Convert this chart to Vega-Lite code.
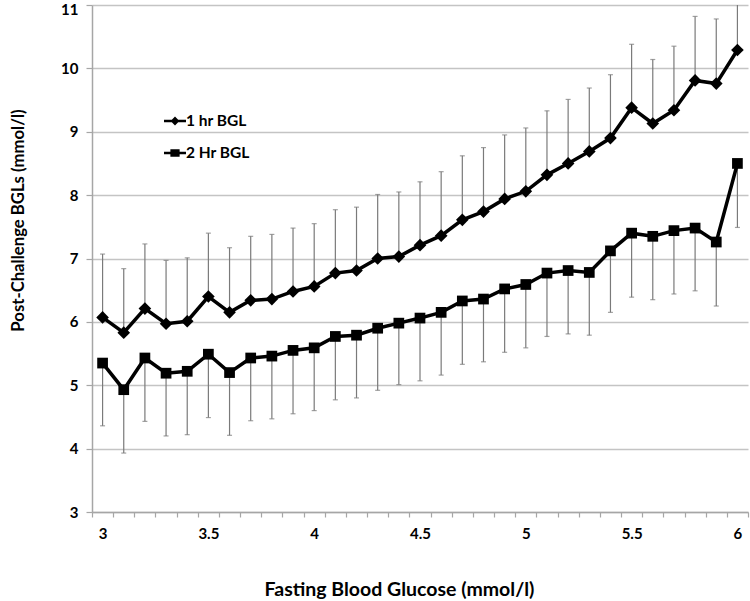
{
  "$schema": "https://vega.github.io/schema/vega-lite/v6.json",
  "autosize": {"type": "none"},
  "width": 656,
  "height": 507,
  "padding": {"left": 92, "top": 5, "right": 2, "bottom": 89},
  "background": "white",
  "config": {
    "view": {"stroke": null},
    "font": "Lato",
    "axis": {"labelFont": "Lato", "titleFont": "Lato"}
  },
  "data": {
    "values": [
      {"x": 3.0, "series": "1 hr BGL", "value": 6.07, "err": 7.07},
      {"x": 3.1, "series": "1 hr BGL", "value": 5.83, "err": 6.84},
      {"x": 3.2, "series": "1 hr BGL", "value": 6.21, "err": 7.23},
      {"x": 3.3, "series": "1 hr BGL", "value": 5.97, "err": 6.97},
      {"x": 3.4, "series": "1 hr BGL", "value": 6.01, "err": 7.01},
      {"x": 3.5, "series": "1 hr BGL", "value": 6.40, "err": 7.40},
      {"x": 3.6, "series": "1 hr BGL", "value": 6.15, "err": 7.17},
      {"x": 3.7, "series": "1 hr BGL", "value": 6.34, "err": 7.35},
      {"x": 3.8, "series": "1 hr BGL", "value": 6.36, "err": 7.38},
      {"x": 3.9, "series": "1 hr BGL", "value": 6.48, "err": 7.48},
      {"x": 4.0, "series": "1 hr BGL", "value": 6.56, "err": 7.55},
      {"x": 4.1, "series": "1 hr BGL", "value": 6.77, "err": 7.77},
      {"x": 4.2, "series": "1 hr BGL", "value": 6.81, "err": 7.81},
      {"x": 4.3, "series": "1 hr BGL", "value": 7.00, "err": 8.01},
      {"x": 4.4, "series": "1 hr BGL", "value": 7.03, "err": 8.05},
      {"x": 4.5, "series": "1 hr BGL", "value": 7.21, "err": 8.21},
      {"x": 4.6, "series": "1 hr BGL", "value": 7.36, "err": 8.37},
      {"x": 4.7, "series": "1 hr BGL", "value": 7.61, "err": 8.62},
      {"x": 4.8, "series": "1 hr BGL", "value": 7.74, "err": 8.75},
      {"x": 4.9, "series": "1 hr BGL", "value": 7.94, "err": 8.95},
      {"x": 5.0, "series": "1 hr BGL", "value": 8.06, "err": 9.06},
      {"x": 5.1, "series": "1 hr BGL", "value": 8.32, "err": 9.33},
      {"x": 5.2, "series": "1 hr BGL", "value": 8.50, "err": 9.51},
      {"x": 5.3, "series": "1 hr BGL", "value": 8.69, "err": 9.69},
      {"x": 5.4, "series": "1 hr BGL", "value": 8.90, "err": 9.90},
      {"x": 5.5, "series": "1 hr BGL", "value": 9.38, "err": 10.38},
      {"x": 5.6, "series": "1 hr BGL", "value": 9.13, "err": 10.14},
      {"x": 5.7, "series": "1 hr BGL", "value": 9.34, "err": 10.35},
      {"x": 5.8, "series": "1 hr BGL", "value": 9.81, "err": 10.82},
      {"x": 5.9, "series": "1 hr BGL", "value": 9.76, "err": 10.78},
      {"x": 6.0, "series": "1 hr BGL", "value": 10.29, "err": 11.29},
      {"x": 3.0, "series": "2 Hr BGL", "value": 5.35, "err": 4.36},
      {"x": 3.1, "series": "2 Hr BGL", "value": 4.93, "err": 3.93},
      {"x": 3.2, "series": "2 Hr BGL", "value": 5.43, "err": 4.43},
      {"x": 3.3, "series": "2 Hr BGL", "value": 5.19, "err": 4.20},
      {"x": 3.4, "series": "2 Hr BGL", "value": 5.22, "err": 4.22},
      {"x": 3.5, "series": "2 Hr BGL", "value": 5.49, "err": 4.49},
      {"x": 3.6, "series": "2 Hr BGL", "value": 5.20, "err": 4.21},
      {"x": 3.7, "series": "2 Hr BGL", "value": 5.43, "err": 4.44},
      {"x": 3.8, "series": "2 Hr BGL", "value": 5.46, "err": 4.47},
      {"x": 3.9, "series": "2 Hr BGL", "value": 5.55, "err": 4.55},
      {"x": 4.0, "series": "2 Hr BGL", "value": 5.59, "err": 4.60},
      {"x": 4.1, "series": "2 Hr BGL", "value": 5.77, "err": 4.77},
      {"x": 4.2, "series": "2 Hr BGL", "value": 5.79, "err": 4.80},
      {"x": 4.3, "series": "2 Hr BGL", "value": 5.90, "err": 4.92},
      {"x": 4.4, "series": "2 Hr BGL", "value": 5.98, "err": 5.01},
      {"x": 4.5, "series": "2 Hr BGL", "value": 6.06, "err": 5.07},
      {"x": 4.6, "series": "2 Hr BGL", "value": 6.15, "err": 5.16},
      {"x": 4.7, "series": "2 Hr BGL", "value": 6.33, "err": 5.33},
      {"x": 4.8, "series": "2 Hr BGL", "value": 6.36, "err": 5.37},
      {"x": 4.9, "series": "2 Hr BGL", "value": 6.52, "err": 5.52},
      {"x": 5.0, "series": "2 Hr BGL", "value": 6.59, "err": 5.59},
      {"x": 5.1, "series": "2 Hr BGL", "value": 6.77, "err": 5.77},
      {"x": 5.2, "series": "2 Hr BGL", "value": 6.81, "err": 5.81},
      {"x": 5.3, "series": "2 Hr BGL", "value": 6.78, "err": 5.79},
      {"x": 5.4, "series": "2 Hr BGL", "value": 7.12, "err": 6.15},
      {"x": 5.5, "series": "2 Hr BGL", "value": 7.40, "err": 6.39},
      {"x": 5.6, "series": "2 Hr BGL", "value": 7.35, "err": 6.35},
      {"x": 5.7, "series": "2 Hr BGL", "value": 7.44, "err": 6.44},
      {"x": 5.8, "series": "2 Hr BGL", "value": 7.48, "err": 6.49},
      {"x": 5.9, "series": "2 Hr BGL", "value": 7.26, "err": 6.25},
      {"x": 6.0, "series": "2 Hr BGL", "value": 8.50, "err": 7.49}
    ]
  },
  "encoding": {
    "x": {
      "field": "x",
      "type": "quantitative",
      "scale": {"domain": [2.95, 6.05], "nice": false, "zero": false},
      "axis": {
        "title": "Fasting Blood Glucose (mmol/l)",
        "values": [2.95, 3.05, 3.15, 3.25, 3.35, 3.45, 3.55, 3.65, 3.75, 3.85, 3.95, 4.05, 4.15, 4.25, 4.35, 4.45, 4.55, 4.65, 4.75, 4.85, 4.95, 5.05, 5.15, 5.25, 5.35, 5.45, 5.55, 5.65, 5.75, 5.85, 5.95, 6.05],
        "labelExpr": "abs((datum.value + 0.05) * 2 - round((datum.value + 0.05) * 2)) < 0.01 ? format(datum.value + 0.05, '.1~f') : ''",
        "labelOffset": 10.6,
        "labelFlush": false,
        "labelOverlap": false,
        "grid": false,
        "domainColor": "#a6a6a6",
        "domainWidth": 1.5,
        "tickColor": "#a6a6a6",
        "tickWidth": 1.2,
        "tickSize": 5,
        "labelPadding": 9,
        "labelFontSize": 15,
        "labelFontWeight": "bold",
        "labelColor": "#000000",
        "titleFontSize": 19.5,
        "titleFontWeight": "bold",
        "titleColor": "#000000",
        "titleX": 307,
        "titleY": 77,
        "titleAlign": "center",
        "titleBaseline": "middle"
      }
    },
    "y": {
      "type": "quantitative",
      "scale": {"domain": [3, 11], "nice": false, "zero": false},
      "axis": {
        "title": "Post-Challenge BGLs (mmol/l)",
        "values": [3, 4, 5, 6, 7, 8, 9, 10, 11],
        "grid": true,
        "gridColor": "#c4c4c4",
        "gridWidth": 1.5,
        "domainColor": "#a6a6a6",
        "domainWidth": 1.5,
        "tickColor": "#a6a6a6",
        "tickWidth": 1.2,
        "tickSize": 6,
        "labelPadding": 8,
        "labelOffset": {"condition": {"test": "datum.value == 11", "value": 4}, "value": 0},
        "labelFontSize": 15,
        "labelFontWeight": "bold",
        "labelColor": "#000000",
        "titleFontSize": 16.7,
        "titleFontWeight": "bold",
        "titleColor": "#000000",
        "titleX": -74,
        "titleY": 215,
        "titleAngle": -90,
        "titleAlign": "center",
        "titleBaseline": "middle"
      }
    }
  },
  "layer": [
    {
      "mark": {"type": "rule", "color": "#7a7a7a", "strokeWidth": 1.2, "clip": true},
      "encoding": {"y": {"field": "value"}, "y2": {"field": "err"}}
    },
    {
      "mark": {"type": "tick", "orient": "horizontal", "color": "#7a7a7a", "size": 5, "thickness": 1.2, "clip": true},
      "encoding": {"y": {"field": "err"}}
    },
    {
      "mark": {"type": "line", "color": "#000000", "strokeWidth": 3.5},
      "encoding": {"y": {"field": "value"}, "detail": {"field": "series"}}
    },
    {
      "transform": [{"filter": "datum.series == '1 hr BGL'"}],
      "mark": {"type": "point", "shape": "diamond", "filled": true, "opacity": 1, "color": "#000000", "size": 160},
      "encoding": {"y": {"field": "value"}}
    },
    {
      "transform": [{"filter": "datum.series == '2 Hr BGL'"}],
      "mark": {"type": "point", "shape": "square", "filled": true, "opacity": 1, "color": "#000000", "size": 115},
      "encoding": {"y": {"field": "value"}}
    },
    {
      "transform": [{"filter": "false"}],
      "mark": {"type": "point", "filled": true, "opacity": 1, "color": "#000000", "strokeWidth": 0},
      "encoding": {
        "y": {"field": "value"},
        "shape": {
          "field": "series",
          "type": "nominal",
          "scale": {
            "domain": ["1 hr BGL", "2 Hr BGL"],
            "range": [
              "M-1,-0.11H1V0.11H-1ZM-0.4,0L0,-0.4L0.4,0L0,0.4Z",
              "M-1,-0.11H1V0.11H-1ZM-0.42,-0.33H0.42V0.33H-0.42Z"
            ]
          },
          "legend": {
            "title": null,
            "orient": "none",
            "legendX": 72,
            "legendY": 105,
            "symbolSize": 484,
            "symbolFillColor": "#000000",
            "symbolStrokeWidth": 0,
            "symbolOpacity": 1,
            "rowPadding": 12,
            "labelOffset": 0,
            "labelFont": "Lato",
            "labelFontSize": 15.5,
            "labelFontWeight": "bold",
            "labelColor": "#000000"
          }
        }
      }
    }
  ]
}
